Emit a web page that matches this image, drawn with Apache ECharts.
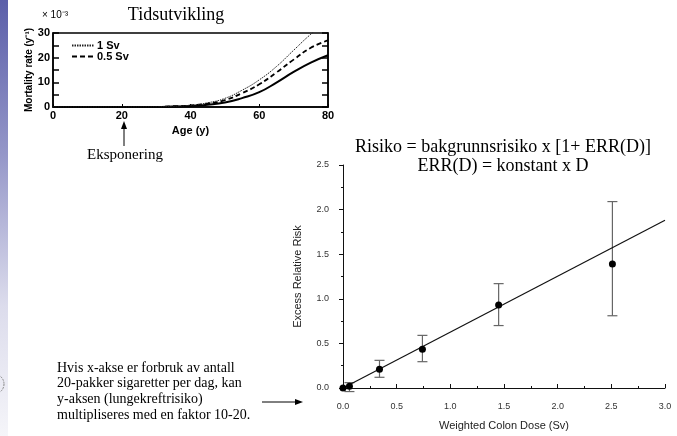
<!DOCTYPE html>
<html>
<head>
<meta charset="utf-8">
<script src="https://cdn.jsdelivr.net/npm/echarts@6/dist/echarts.min.js"></script>
<style>
  html, body { margin: 0; padding: 0; background: #fff; }
  #chart { width: 677px; height: 436px; }
</style>
</head>
<body>
<div id="chart"></div>
<script>
// mortality curves (x 10^-3 per year) by age
const ages = [0, 20, 30, 35, 40, 45, 50, 55, 60, 65, 70, 75, 80];
const rate0Sv = [0, 0, 0.05, 0.2, 0.4, 0.9, 1.8, 3.6, 6.0, 9.9, 14.2, 18.0, 21.0];
const rate05Sv = [0, 0, 0.05, 0.3, 0.6, 1.4, 2.8, 5.6, 9.2, 14.0, 19.2, 24.0, 27.0];
const rate1Sv = [0, 0, 0.05, 0.3, 0.7, 1.7, 3.5, 6.8, 11.0, 16.4, 23.0, 29.5, 35.0];

// excess relative risk vs dose
const doses = [0, 0.06, 0.34, 0.74, 1.45, 2.51];
const err = [0, 0.02, 0.21, 0.435, 0.93, 1.39];
const errLow = ['-', -0.04, 0.12, 0.295, 0.70, 0.81];
const errHigh = ['-', 0.06, 0.31, 0.59, 1.17, 2.09];
const fitX = [0.05, 3.0];
const fitY = [0.03, 1.88];

const serif = '"Liberation Serif", "Times New Roman", serif';
const sans = '"Liberation Sans", Arial, sans-serif';

const pairs = (xs, ys) => xs.map((x, i) => [x, ys[i]]);

const chart = echarts.init(document.getElementById('chart'), null, { renderer: 'canvas' });

const smallAxisLabel = { color: '#000', fontWeight: 'bold', fontSize: 11, fontFamily: sans };

let option = {
    backgroundColor: '#fff',
    animation: false,
    grid: [
        { left: 53, right: 349, top: 33, bottom: 329, show: true, borderColor: '#000', borderWidth: 1.5 },
        { left: 343, right: 12, top: 165, bottom: 46.5 }
    ],
    legend: {
        data: ['1 Sv', '0.5 Sv'],
        orient: 'vertical',
        left: 66, top: 35,
        itemWidth: 22, itemHeight: 8, itemGap: 0,
        itemStyle: { color: 'rgba(0,0,0,0)', borderWidth: 0, opacity: 0 },
        textStyle: { fontSize: 11, fontWeight: 'bold', fontFamily: sans, color: '#000', padding: [0, 0, 0, -2] }
    },
    xAxis: [
        {
            gridIndex: 0, type: 'value', min: 0, max: 80, interval: 20,
            name: 'Age (y)', nameLocation: 'middle', nameGap: 18,
            nameTextStyle: { fontWeight: 'bold', fontSize: 11, fontFamily: sans, color: '#000' },
            axisLine: { lineStyle: { color: '#000', width: 1.5 } },
            axisTick: { inside: true, length: 3, lineStyle: { color: '#000' } },
            axisLabel: Object.assign({ margin: 3 }, smallAxisLabel),
            splitLine: { show: false }
        },
        {
            gridIndex: 1, type: 'value', min: 0, max: 3, interval: 0.5, offset: 8,
            name: 'Weighted Colon Dose (Sv)', nameLocation: 'middle', nameGap: 24,
            nameTextStyle: { fontSize: 11, fontFamily: sans, color: '#222' },
            axisLine: { lineStyle: { color: '#111', width: 1 } },
            axisTick: { inside: true, length: 4, lineStyle: { color: '#111' } },
            minorTick: { show: true, splitNumber: 2, length: 2, lineStyle: { color: '#111' } },
            axisLabel: { fontSize: 9, fontFamily: sans, color: '#333', margin: 6, formatter: v => v.toFixed(1) },
            splitLine: { show: false }
        }
    ],
    yAxis: [
        {
            gridIndex: 0, type: 'value', min: 0, max: 30, interval: 10, position: 'left',
            name: 'Mortality rate (y⁻¹)', nameLocation: 'middle', nameGap: 17,
            nameTextStyle: { fontWeight: 'bold', fontSize: 10, fontFamily: sans, color: '#000' },
            axisLine: { lineStyle: { color: '#000', width: 1.5 } },
            axisTick: { inside: true, length: 6, lineStyle: { color: '#000', width: 1.5 } },
            minorTick: { show: true, splitNumber: 2, length: 6, lineStyle: { color: '#000', width: 1.5 } },
            axisLabel: Object.assign({ margin: 3 }, smallAxisLabel),
            splitLine: { show: false }
        },
        {
            gridIndex: 0, type: 'value', min: 0, max: 30, interval: 10, position: 'right',
            axisLine: { lineStyle: { color: '#000', width: 1.5 } },
            axisTick: { inside: true, length: 6, lineStyle: { color: '#000', width: 1.5 } },
            minorTick: { show: true, splitNumber: 2, length: 6, lineStyle: { color: '#000', width: 1.5 } },
            axisLabel: { show: false },
            splitLine: { show: false }
        },
        {
            gridIndex: 1, type: 'value', min: 0, max: 2.5, interval: 0.5, offset: 9,
            name: 'Excess Relative Risk', nameLocation: 'middle', nameGap: 31,
            nameTextStyle: { fontSize: 11, fontFamily: sans, color: '#222' },
            axisLine: { show: true, lineStyle: { color: '#111', width: 1 } },
            axisTick: { show: true, length: 4, lineStyle: { color: '#111' } },
            minorTick: { show: true, splitNumber: 2, length: 2, lineStyle: { color: '#111' } },
            axisLabel: { fontSize: 9, fontFamily: sans, color: '#333', margin: 5, formatter: v => v.toFixed(1) },
            splitLine: { show: false }
        }
    ],
    series: [
        {
            name: '0 Sv', type: 'line', xAxisIndex: 0, yAxisIndex: 0, smooth: true, symbol: 'none',
            data: pairs(ages, rate0Sv),
            lineStyle: { color: '#000', width: 2 }
        },
        {
            name: '0.5 Sv', type: 'line', xAxisIndex: 0, yAxisIndex: 0, smooth: true, symbol: 'none',
            data: pairs(ages, rate05Sv),
            itemStyle: { color: '#000' },
            lineStyle: { color: '#000', width: 1.8, type: [5, 3] }
        },
        {
            name: '1 Sv', type: 'line', xAxisIndex: 0, yAxisIndex: 0, smooth: true, symbol: 'none',
            data: pairs(ages, rate1Sv), clip: true,
            itemStyle: { color: '#000' },
            lineStyle: { color: '#222', width: 1, type: [1.5, 1] }
        },
        {
            name: 'fit', type: 'line', xAxisIndex: 1, yAxisIndex: 2, symbol: 'none',
            data: pairs(fitX, fitY),
            lineStyle: { color: '#111', width: 1.2 }
        },
        {
            name: 'error bars', type: 'custom', xAxisIndex: 1, yAxisIndex: 2,
            data: doses.map((d, i) => [d, err[i], errLow[i], errHigh[i]]),
            renderItem: function (params, api) {
                const lo = api.value(2), hi = api.value(3);
                if (isNaN(lo) || isNaN(hi)) return null;
                const top = api.coord([api.value(0), hi]);
                const bot = api.coord([api.value(0), lo]);
                const w = 5;
                const style = { stroke: '#666', lineWidth: 1.2 };
                return {
                    type: 'group',
                    children: [
                        { type: 'line', shape: { x1: top[0], y1: top[1], x2: bot[0], y2: bot[1] }, style: style },
                        { type: 'line', shape: { x1: top[0] - w, y1: top[1], x2: top[0] + w, y2: top[1] }, style: style },
                        { type: 'line', shape: { x1: bot[0] - w, y1: bot[1], x2: bot[0] + w, y2: bot[1] }, style: style }
                    ]
                };
            },
            z: 3
        },
        {
            name: 'ERR', type: 'scatter', xAxisIndex: 1, yAxisIndex: 2,
            data: pairs(doses, err), symbolSize: 7,
            itemStyle: { color: '#000', opacity: 1 }, z: 4
        }
    ],
    graphic: [
        {
            type: 'rect', left: 0, top: 0, z: -1,
            shape: { width: 8, height: 436 },
            style: {
                fill: new echarts.graphic.LinearGradient(0, 0, 0, 1, [
                    { offset: 0, color: '#5b5fa9' },
                    { offset: 0.35, color: '#9496c8' },
                    { offset: 0.7, color: '#dcdcec' },
                    { offset: 1, color: '#f5f5f9' }
                ])
            }
        },
        { type: 'circle', shape: { cx: -6, cy: 384, r: 10 }, style: { fill: 'none', stroke: '#888', lineWidth: 1, lineDash: [2, 1] } },
        { type: 'text', x: 176, y: 15, style: { text: 'Tidsutvikling', font: '18px ' + serif, fill: '#000', align: 'center', verticalAlign: 'middle' } },
        { type: 'text', x: 42, y: 15, style: { text: '× 10⁻³', font: '10px ' + sans, fill: '#000', verticalAlign: 'middle' } },
        { type: 'line', shape: { x1: 124, y1: 146, x2: 124, y2: 127 }, style: { stroke: '#000', lineWidth: 1 } },
        { type: 'polygon', shape: { points: [[124, 121], [121, 129], [127, 129]] }, style: { fill: '#000' } },
        { type: 'text', x: 125, y: 155, style: { text: 'Eksponering', font: '15px ' + serif, fill: '#000', align: 'center', verticalAlign: 'middle' } },
        {
            type: 'text', x: 503, y: 138,
            style: {
                text: 'Risiko = bakgrunnsrisiko x [1+ ERR(D)]\nERR(D) = konstant x D',
                font: '18px ' + serif, lineHeight: 19, fill: '#000', align: 'center', verticalAlign: 'top'
            }
        },
        {
            type: 'text', x: 57, y: 360,
            style: {
                text: 'Hvis x-akse er forbruk av antall\n20-pakker sigaretter per dag, kan\ny-aksen (lungekreftrisiko)\nmultipliseres med en faktor 10-20.',
                font: '14px ' + serif, lineHeight: 15.7, fill: '#000', verticalAlign: 'top'
            }
        },
        { type: 'line', shape: { x1: 262, y1: 402, x2: 296, y2: 402 }, style: { stroke: '#000', lineWidth: 1 } },
        { type: 'polygon', shape: { points: [[303, 402], [295, 399], [295, 405]] }, style: { fill: '#000' } }
    ]
};

chart.setOption(option);
</script>
</body>
</html>
